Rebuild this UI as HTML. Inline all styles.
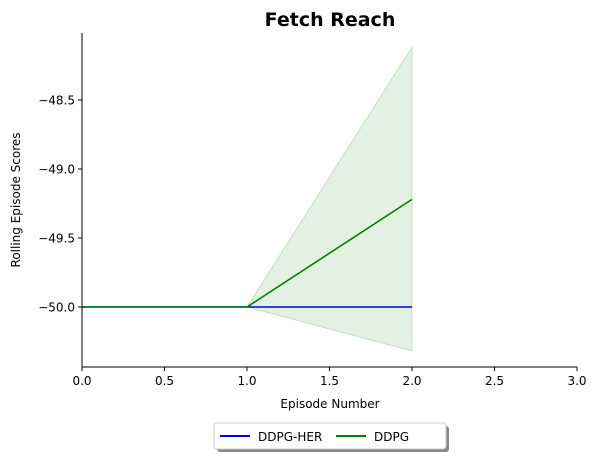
<!DOCTYPE html>
<html><head><meta charset="utf-8"><style>
body{margin:0;background:#fff;font-family:"DejaVu Sans","Liberation Sans",sans-serif}
</style></head><body>
<svg width="598" height="459" xmlns="http://www.w3.org/2000/svg" font-family="DejaVu Sans, Liberation Sans, sans-serif">
<text x="330" y="26" text-anchor="middle" font-size="19" font-weight="bold">Fetch Reach</text>
<g id="plot"></g>
<text x="330" y="408" text-anchor="middle" font-size="12">Episode Number</text>
<text transform="translate(20,200) rotate(-90)" text-anchor="middle" font-size="12">Rolling Episode Scores</text>
<g>
<rect x="217" y="426" width="232" height="26" rx="3" fill="#888"/>
<rect x="214" y="423" width="232" height="26" rx="3" fill="#fff" stroke="#ccc"/>
<line x1="220" y1="436" x2="250" y2="436" stroke="blue" stroke-width="2"/>
<text x="258" y="441" font-size="12">DDPG-HER</text>
<line x1="336" y1="436" x2="366" y2="436" stroke="green" stroke-width="2"/>
<text x="374" y="441" font-size="12">DDPG</text>
</g>
</svg>
<script>
const episodes=[0,1,2];
const herScores=[-50,-50,-50];
const ddpgScores=[-50,-50,-49.22];
const ddpgUpper=[-50,-50,-48.116];
const ddpgLower=[-50,-50,-50.319];
const xTicks=[0,0.5,1.0,1.5,2.0,2.5,3.0];
const yTicks=[-50.0,-49.5,-49.0,-48.5];
const ns="http://www.w3.org/2000/svg";
const g=document.getElementById('plot');
const X=v=>82+v*165;
const Y=v=>307-(v+50)*138;
function mk(t,a){const e=document.createElementNS(ns,t);for(const k in a)e.setAttribute(k,a[k]);g.appendChild(e);return e;}
let band=episodes.map((x,i)=>X(x)+','+Y(ddpgUpper[i])).concat(episodes.slice().reverse().map((x,j)=>{const i=episodes.length-1-j;return X(x)+','+Y(ddpgLower[i]);}));
const b=mk('polygon',{points:band.join(' '),fill:'green','fill-opacity':0.11,stroke:'green','stroke-opacity':0.2});


const l1=mk('polyline',{points:episodes.map((x,i)=>X(x)+','+Y(herScores[i])).join(' '),fill:'none',stroke:'blue','stroke-width':1.6});


const l2=mk('polyline',{points:episodes.map((x,i)=>X(x)+','+Y(ddpgScores[i])).join(' '),fill:'none',stroke:'green','stroke-width':1.6});


const ax=mk('line',{x1:82,y1:33,x2:82,y2:367,stroke:'#000'});


const ax2=mk('line',{x1:82,y1:367,x2:577,y2:367,stroke:'#000'});


xTicks.forEach(t=>{mk('line',{x1:X(t),y1:367,x2:X(t),y2:371,stroke:'#000'});
const tx=mk('text',{x:X(t),y:385,'text-anchor':'middle','font-size':12});tx.textContent=t.toFixed(1);

});
yTicks.forEach(t=>{mk('line',{x1:78,y1:Y(t),x2:82,y2:Y(t),stroke:'#000'});
const tx=mk('text',{x:75,y:Y(t)+4.5,'text-anchor':'end','font-size':12});tx.textContent='\u2212'+Math.abs(t).toFixed(1);

});
</script>
</body></html>
